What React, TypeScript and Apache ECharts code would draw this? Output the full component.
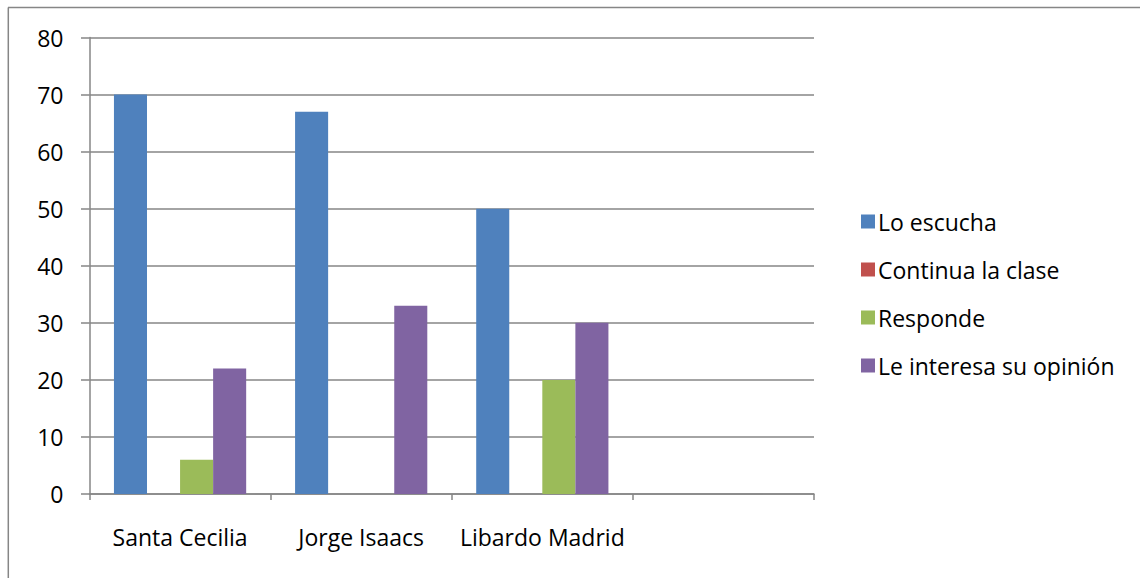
import React, { useEffect, useRef } from "react";
import * as echarts from "echarts";

const categories = ["Santa Cecilia", "Jorge Isaacs", "Libardo Madrid", ""];
const seriesNames = ["Lo escucha", "Continua la clase", "Responde", "Le interesa su opinión"];
const loEscucha = [70, 67, 50, 0];
const continuaLaClase = [0, 0, 0, 0];
const responde = [6, 0, 20, 0];
const leInteresa = [22, 33, 30, 0];
const colors = ["#4F81BD", "#C0504D", "#9BBB59", "#8064A2"];
const yTicks = { min: 0, max: 80, interval: 10 };

const FONT = "'Open Sans', 'Noto Sans', sans-serif";
const GREY = "#868686";

export default function App() {
  const ref = useRef<HTMLDivElement>(null);
  useEffect(() => {
    if (!ref.current) return;
    const chart = echarts.init(ref.current, undefined, { renderer: "svg" });
    const values = [loEscucha, continuaLaClase, responde, leInteresa];
    chart.setOption({
      animation: false,
      backgroundColor: "#ffffff",
      textStyle: { fontFamily: FONT },
      grid: { left: 89.5, right: 326, top: 37.5, bottom: 84, containLabel: false },
      legend: {
        orient: "vertical",
        left: 856,
        top: 205,
        itemWidth: 14,
        itemHeight: 14,
        itemGap: 25,
        icon: "rect",
        textStyle: { fontFamily: FONT, fontSize: 23, color: "#000", padding: [0, 0, 0, -2] },
        data: seriesNames,
      },
      xAxis: {
        type: "category",
        data: categories,
        boundaryGap: true,
        axisLine: { show: true, lineStyle: { color: GREY, width: 1.5 } },
        axisTick: { show: true, length: 6, alignWithLabel: false, lineStyle: { color: GREY, width: 1.5 } },
        axisLabel: { fontFamily: FONT, fontSize: 23, color: "#000", margin: 31, interval: 0 },
        splitLine: { show: false },
      },
      yAxis: {
        type: "value",
        min: yTicks.min,
        max: yTicks.max,
        interval: yTicks.interval,
        axisLine: { show: true, lineStyle: { color: GREY, width: 1.5 } },
        axisTick: { show: true, length: 8.5, lineStyle: { color: GREY, width: 1.5 } },
        axisLabel: { fontFamily: FONT, fontSize: 23, color: "#000", margin: 26 },
        splitLine: { show: true, lineStyle: { color: GREY, width: 1.5 } },
      },
      graphic: [
        { type: "line", shape: { x1: 8, y1: 7.5, x2: 1140, y2: 7.5 }, style: { stroke: GREY, lineWidth: 1.5 } },
        { type: "line", shape: { x1: 8.3, y1: 7.5, x2: 8.3, y2: 578 }, style: { stroke: GREY, lineWidth: 1.5 } },
      ],
      series: seriesNames.map((name, i) => ({
        name,
        type: "bar",
        data: values[i],
        itemStyle: { color: colors[i] },
        barGap: "0%",
        barCategoryGap: "27%",
      })),
    });
    return () => chart.dispose();
  }, []);
  return (
    <div
      ref={ref}
      style={{ position: "absolute", left: 0, top: 0, width: 1140, height: 578, background: "#fff" }}
    />
  );
}
